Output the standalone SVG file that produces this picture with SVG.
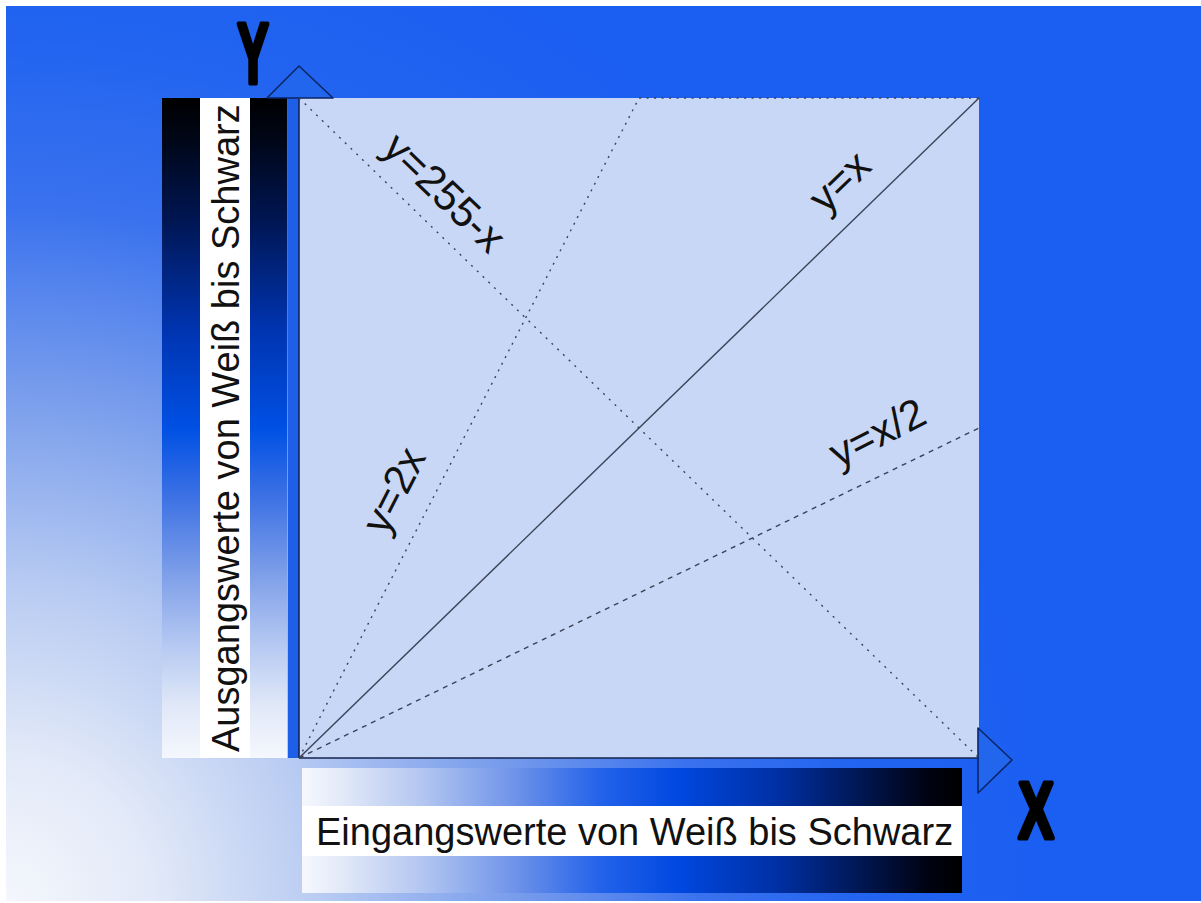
<svg xmlns="http://www.w3.org/2000/svg" width="1201" height="903" viewBox="0 0 1201 903">
<style>
.lbl{font-family:"Liberation Sans",Arial,sans-serif;font-size:38px;fill:#111}
.cl{font-family:"Liberation Sans",Arial,sans-serif;font-size:42px;fill:#111;text-anchor:middle}
.big{font-family:"Liberation Sans",Arial,sans-serif;font-weight:bold;fill:#000;stroke:#000;stroke-width:5;stroke-linejoin:round;text-anchor:middle}
.curve{fill:none;stroke:#3a4256;stroke-width:1.4}
.tri{fill:#2266ee;stroke:#0b2566;stroke-width:1.6;stroke-linejoin:round}
</style>
<defs>
<radialGradient id="bg" gradientUnits="userSpaceOnUse" cx="6" cy="901" r="1050">
<stop offset="0" stop-color="#f4f7fc"/>
<stop offset="0.14" stop-color="#e2e9f8"/>
<stop offset="0.3" stop-color="#b8cbf2"/>
<stop offset="0.48" stop-color="#7a9eec"/>
<stop offset="0.66" stop-color="#3a72ee"/>
<stop offset="0.82" stop-color="#2264f0"/>
<stop offset="1" stop-color="#1a5ef2"/>
</radialGradient>
<linearGradient id="vbar" x1="0" y1="98" x2="0" y2="758" gradientUnits="userSpaceOnUse">
<stop offset="0" stop-color="#000000"/>
<stop offset="0.06" stop-color="#000616"/>
<stop offset="0.18" stop-color="#001550"/>
<stop offset="0.35" stop-color="#0034b0"/>
<stop offset="0.5" stop-color="#0050e4"/>
<stop offset="0.6" stop-color="#3a70e4"/>
<stop offset="0.72" stop-color="#7d9ee8"/>
<stop offset="0.83" stop-color="#b6c9f2"/>
<stop offset="0.92" stop-color="#e0e8f8"/>
<stop offset="1" stop-color="#f4f7fd"/>
</linearGradient>
<linearGradient id="hbar" x1="302" y1="0" x2="962" y2="0" gradientUnits="userSpaceOnUse">
<stop offset="0" stop-color="#f6f8fd"/>
<stop offset="0.06" stop-color="#e2e9f8"/>
<stop offset="0.18" stop-color="#b4c7f1"/>
<stop offset="0.33" stop-color="#6a90e8"/>
<stop offset="0.45" stop-color="#2463ea"/>
<stop offset="0.57" stop-color="#0048e0"/>
<stop offset="0.72" stop-color="#0030a4"/>
<stop offset="0.85" stop-color="#001650"/>
<stop offset="0.95" stop-color="#000210"/>
<stop offset="1" stop-color="#000000"/>
</linearGradient>
</defs>

<g id="background">
<rect x="0" y="0" width="1201" height="903" fill="#ffffff"/>
<rect x="6" y="6" width="1195" height="895" fill="url(#bg)"/>
</g>

<g id="plot-area">
<rect x="299" y="98" width="680" height="660" fill="#c9d7f6"/>
</g>

<g id="output-bar">
<rect x="162" y="98" width="125" height="660" fill="url(#vbar)"/>
<rect x="200" y="98" width="50" height="660" fill="#ffffff"/>
<text class="lbl" transform="translate(239,752) rotate(-90)">Ausgangswerte von Weiß bis Schwarz</text>
</g>

<g id="input-bar">
<rect x="302" y="768" width="660" height="125" fill="url(#hbar)"/>
<rect x="302" y="806" width="660" height="50" fill="#ffffff"/>
<text class="lbl" x="316" y="845">Eingangswerte von Weiß bis Schwarz</text>
</g>

<g id="y-axis">
<rect x="288" y="98" width="11" height="660" fill="#1d5fe8"/>
<line x1="299" y1="98" x2="299" y2="758" stroke="#14244e" stroke-width="1.6"/>
<polygon class="tri" points="299,66 333,98 267,98"/>
<text class="big" font-size="86" transform="translate(253,83) scale(0.55,1)">Y</text>
</g>

<g id="x-axis">
<line x1="299" y1="758" x2="979" y2="758" stroke="#14244e" stroke-width="1.6"/>
<polygon class="tri" points="978,728 1012,760 978,793"/>
<text class="big" font-size="80" transform="translate(1036,838) scale(0.66,1)">X</text>
</g>

<g id="connectors">
<line id="c-identity" class="curve" x1="299" y1="758" x2="979" y2="98"/>
<line id="c-invert" class="curve" x1="299" y1="98" x2="979" y2="758" stroke-dasharray="2 6"/>
<polyline id="c-double" class="curve" points="299,758 639,98 979,98" stroke-dasharray="2 5.5"/>
<line id="c-half" class="curve" x1="299" y1="758" x2="979" y2="428" stroke-dasharray="5 5"/>
</g>

<g id="labels">
<text class="cl" transform="translate(445,192) rotate(44)" dy="15">y=255-x</text>
<text class="cl" transform="translate(839,181) rotate(-44)" dy="15">y=x</text>
<text class="cl" transform="translate(877,432) rotate(-27)" dy="15">y=x/2</text>
<text class="cl" transform="translate(393,490) rotate(-63)" dy="15">y=2x</text>
</g>
</svg>
